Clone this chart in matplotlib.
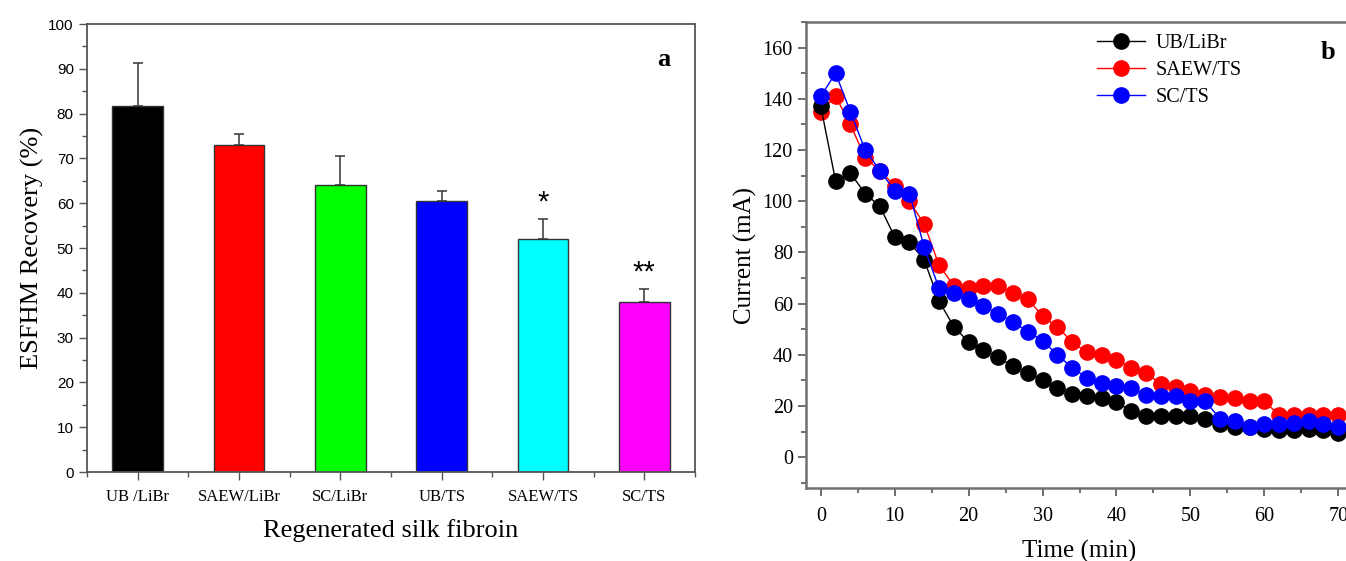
import numpy as np
import matplotlib
matplotlib.use("Agg")
import matplotlib.pyplot as plt
from matplotlib.ticker import MultipleLocator

# panel a: recovery of regenerated silk fibroin
groups = ["UB /LiBr", "SAEW/LiBr", "SC/LiBr", "UB/TS", "SAEW/TS", "SC/TS"]
recovery = [81.8, 73.0, 64.0, 60.5, 52.0, 38.0]
recovery_err = [9.4, 2.5, 6.6, 2.2, 4.5, 2.9]
bar_colors = ["#000000", "#ff0000", "#00ff00", "#0000ff", "#00ffff", "#ff00ff"]
marks = ["", "", "", "", "*", "**"]

# panel b: current over time
time_min = list(range(0, 72, 2))
ub_libr = [137, 108, 111, 103, 98, 86, 84, 77, 61, 51, 45, 42, 39, 35.5, 33, 30,
           27, 24.6, 24, 23, 21.5, 18, 16, 16, 16, 16, 15, 13, 12, 12, 11, 10.5,
           10.5, 11, 10.5, 9.5]
saew_ts = [135, 141, 130, 117, 112, 106, 100, 91, 75, 67, 66, 67, 67, 64, 62, 55,
           51, 45, 41, 40, 38, 35, 33, 28.5, 27.5, 26, 24.5, 23.5, 23, 22, 22, 16.4,
           16.5, 16.5, 16.5, 16.5]
sc_ts = [141, 150, 135, 120, 112, 104, 103, 82, 66, 64, 62, 59, 56, 53, 49, 45.6,
         40, 35, 31, 29, 28, 27, 24.5, 24, 24, 22, 22, 15, 14, 12, 13, 13,
         13.5, 14, 13, 12]

serif = ["Liberation Serif", "DejaVu Serif"]
sans = ["Liberation Sans", "DejaVu Sans"]
spine_c = "#555555"

fig = plt.figure(figsize=(13.46, 5.61), dpi=100)

# ---- panel a ----
ax1 = fig.add_axes([87 / 1346, 89 / 561, 608 / 1346, 448 / 561])
pos = np.arange(1, len(groups) + 1)
ax1.bar(pos, recovery, width=0.5, color=bar_colors, edgecolor="#333333", linewidth=1,
        zorder=2)
ax1.errorbar(pos, recovery, yerr=[np.zeros(len(pos)), recovery_err], fmt="none",
             ecolor="#444444", elinewidth=1.2, capsize=3.5, capthick=1.2, zorder=1)
for p, v, e, m in zip(pos, recovery, recovery_err, marks):
    if m:
        ax1.text(p, v + e + 0.6, m, ha="center", va="bottom", fontsize=21,
                 family=sans)
ax1.set_xlim(0.5, 6.5)
ax1.set_ylim(0, 100)
ax1.set_xticks(pos)
ax1.set_xticklabels(groups, family=serif, fontsize=12)
ax1.xaxis.set_minor_locator(MultipleLocator(1, offset=0.5))
ax1.yaxis.set_major_locator(MultipleLocator(10))
ax1.yaxis.set_minor_locator(MultipleLocator(5))
for lab in ax1.get_yticklabels():
    lab.set_family(sans)
    lab.set_fontsize(11)
ax1.tick_params(which="major", direction="out", length=6, width=1, color=spine_c)
ax1.tick_params(which="minor", direction="out", length=3.5, width=1, color=spine_c)
ax1.tick_params(axis="x", which="major", pad=6)
for s in ax1.spines.values():
    s.set_color(spine_c)
    s.set_linewidth(1.3)
ax1.set_xlabel("Regenerated silk fibroin", family=serif, fontsize=19, labelpad=10)
ax1.set_ylabel("ESFHM Recovery (%)", family=serif, fontsize=19, labelpad=3)
ax1.text(6.19, 92, "a", family=serif, fontsize=19, fontweight="bold",
         ha="center", va="center")

# ---- panel b ----
ax2 = fig.add_axes([806 / 1346, 73 / 561, 547 / 1346, 466 / 561])
ax2.plot(time_min, ub_libr, "-o", color="black", lw=1, ms=11, label="UB/LiBr", zorder=3)
ax2.plot(time_min, saew_ts, "-o", color="#ff0000", lw=1, ms=11, label="SAEW/TS", zorder=2)
ax2.plot(time_min, sc_ts, "-o", color="#0000ff", lw=1, ms=11, label="SC/TS", zorder=4)
ax2.set_xlim(-2, 72)
ax2.set_ylim(-12, 170)
ax2.xaxis.set_major_locator(MultipleLocator(10))
ax2.xaxis.set_minor_locator(MultipleLocator(5))
ax2.yaxis.set_major_locator(MultipleLocator(20))
ax2.yaxis.set_minor_locator(MultipleLocator(10))
for lab in ax2.get_xticklabels() + ax2.get_yticklabels():
    lab.set_family(serif)
    lab.set_fontsize(14.5)
ax2.tick_params(which="major", direction="out", length=6, width=1.2, color=spine_c)
ax2.tick_params(which="minor", direction="out", length=3.5, width=1.2, color=spine_c)
ax2.tick_params(axis="x", which="major", pad=8)
for s in ax2.spines.values():
    s.set_color("#707070")
    s.set_linewidth(1.8)
ax2.set_xlabel("Time (min)", family=serif, fontsize=18, labelpad=10)
ax2.set_ylabel("Current (mA)", family=serif, fontsize=18, labelpad=4)
ax2.text(68.6, 158, "b", family=serif, fontsize=19, fontweight="bold",
         ha="center", va="center")
leg = ax2.legend(loc="upper left", bbox_to_anchor=(0.51, 1.0), frameon=False,
                 prop={"family": serif, "size": 14.5}, handlelength=2.4,
                 labelspacing=0.4, handletextpad=0.5, borderaxespad=0.2)

fig.savefig("out.png", dpi=100)
